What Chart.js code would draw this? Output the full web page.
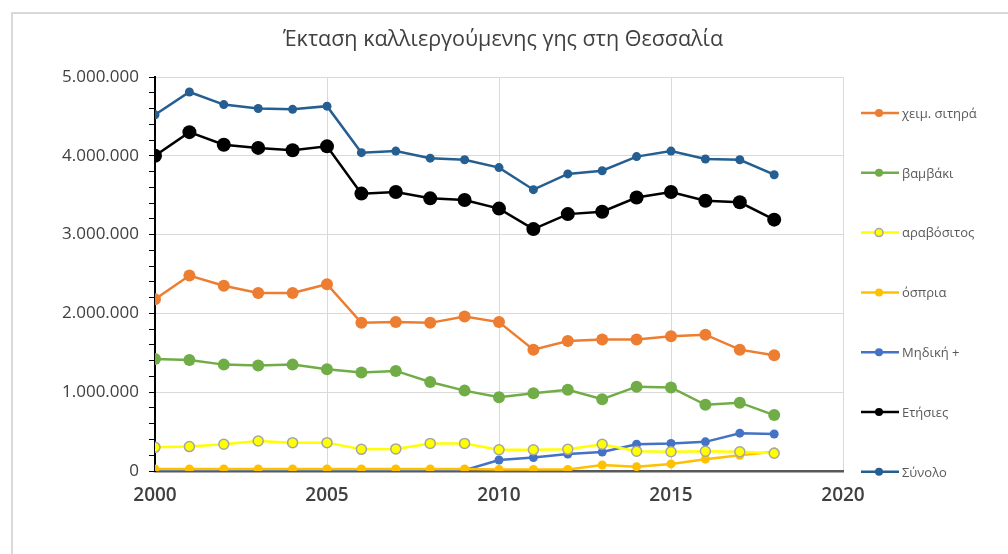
<!DOCTYPE html>
<html>
<head>
<meta charset="utf-8">
<script src="https://cdn.jsdelivr.net/npm/chart.js@4.4.1/dist/chart.umd.min.js"></script>
<style>
  html, body { margin: 0; padding: 0; background: #fff; }
  #wrap { width: 1008px; height: 554px; position: relative; }
</style>
</head>
<body>
<div id="wrap"><canvas id="chart" width="1008" height="554"></canvas></div>
<script>
    const chartTitle = "Έκταση καλλιεργούμενης γης στη Θεσσαλία";
    const years = [2000, 2001, 2002, 2003, 2004, 2005, 2006, 2007, 2008, 2009,
                   2010, 2011, 2012, 2013, 2014, 2015, 2016, 2017, 2018];

    const seriesNames = ["χειμ. σιτηρά", "βαμβάκι", "αραβόσιτος", "όσπρια", "Μηδική +", "Ετήσιες", "Σύνολο"];

    const wheat = [2180000, 2480000, 2350000, 2260000, 2260000, 2370000, 1880000, 1890000, 1880000, 1960000,
                   1890000, 1540000, 1650000, 1670000, 1670000, 1710000, 1730000, 1540000, 1470000];
    const cotton = [1420000, 1410000, 1350000, 1340000, 1350000, 1290000, 1250000, 1270000, 1130000, 1020000,
                    935000, 986000, 1030000, 910000, 1070000, 1060000, 840000, 867000, 710000];
    const maize = [300000, 310000, 340000, 380000, 360000, 360000, 275000, 280000, 350000, 350000,
                   270000, 270000, 275000, 340000, 250000, 245000, 250000, 245000, 225000];
    const pulses = [25000, 25000, 25000, 25000, 25000, 25000, 25000, 25000, 25000, 25000,
                    20000, 20000, 20000, 76000, 55000, 90000, 150000, 200000, 245000];
    const alfalfa = [5000, 5000, 5000, 5000, 5000, 5000, 5000, 5000, 5000, 10000,
                     140000, 170000, 215000, 240000, 340000, 350000, 370000, 480000, 470000];
    const annual = [4000000, 4300000, 4140000, 4100000, 4070000, 4120000, 3520000, 3540000, 3460000, 3440000,
                    3330000, 3070000, 3260000, 3290000, 3470000, 3540000, 3430000, 3410000, 3190000];
    const total = [4520000, 4810000, 4650000, 4600000, 4590000, 4630000, 4040000, 4060000, 3970000, 3950000,
                   3850000, 3570000, 3770000, 3810000, 3990000, 4060000, 3960000, 3950000, 3760000];

    const yTickLabels = [0, 1000000, 2000000, 3000000, 4000000, 5000000];
    const xTickLabels = [2000, 2005, 2010, 2015, 2020];

    function fmtGreek(v) {
        return String(Math.round(v)).replace(/\B(?=(\d{3})+(?!\d))/g, '.');
    }

    function toPoints(arr) {
        return years.map((yr, i) => ({ x: yr, y: arr[i] }));
    }

    function makeSet(label, arr, color, radius, border, borderW) {
        return {
            label: label,
            data: toPoints(arr),
            borderColor: color,
            backgroundColor: color,
            borderWidth: 2.5,
            tension: 0,
            pointRadius: radius,
            pointHoverRadius: radius,
            pointBackgroundColor: color,
            pointBorderColor: border || color,
            pointBorderWidth: borderW || 0
        };
    }

    const datasets = [
        makeSet(seriesNames[0], wheat, '#ED7D31', 6),
        makeSet(seriesNames[1], cotton, '#70AD47', 6),
        makeSet(seriesNames[2], maize, '#FFFF00', 5, '#A5A5A5', 1.5),
        makeSet(seriesNames[3], pulses, '#FFC000', 4.5),
        makeSet(seriesNames[4], alfalfa, '#4472C4', 4.5),
        makeSet(seriesNames[5], annual, '#000000', 7),
        makeSet(seriesNames[6], total, '#255E91', 4.5)
    ];

    // frame, title and legend drawn by hand
    const decorPlugin = {
        id: 'decor',
        beforeDraw(chart) {
            const c = chart.ctx;
            c.save();
            c.strokeStyle = '#d9d9d9';
            c.lineWidth = 2;
            c.beginPath();
            c.moveTo(12, chart.height);
            c.lineTo(12, 13);
            c.lineTo(chart.width, 13);
            c.stroke();
            c.restore();
        },
        afterDraw(chart) {
            const c = chart.ctx;
            c.save();
            c.fillStyle = '#404040';
            c.font = '21.5px "Open Sans", sans-serif';
            c.textAlign = 'center';
            c.textBaseline = 'middle';
            c.fillText(chartTitle, 503, 40);

            c.font = '13px "Open Sans", sans-serif';
            c.textAlign = 'left';
            chart.data.datasets.forEach((ds, i) => {
                const y = 113 + i * 59.8;
                c.strokeStyle = ds.borderColor;
                c.lineWidth = 2.5;
                c.beginPath();
                c.moveTo(861, y);
                c.lineTo(899, y);
                c.stroke();
                c.beginPath();
                c.arc(879, y, 4, 0, Math.PI * 2);
                c.fillStyle = ds.pointBackgroundColor;
                c.fill();
                if (ds.pointBorderWidth) {
                    c.lineWidth = 1.5;
                    c.strokeStyle = ds.pointBorderColor;
                    c.stroke();
                }
                c.fillStyle = '#595959';
                c.fillText(ds.label, 902, y + 1);
            });
            c.restore();
        }
    };

    new Chart(document.getElementById('chart').getContext('2d'), {
        type: 'line',
        data: { datasets: datasets },
        options: {
            responsive: false,
            animation: false,
            events: [],
            layout: { padding: { left: 11, right: 165, top: 77, bottom: 0 } },
            plugins: {
                legend: { display: false },
                title: { display: false },
                tooltip: { enabled: false }
            },
            scales: {
                x: {
                    type: 'linear',
                    min: xTickLabels[0],
                    max: xTickLabels[xTickLabels.length - 1],
                    afterBuildTicks: (s) => { s.ticks = xTickLabels.map(v => ({ value: v })); },
                    afterFit: (s) => { s.height = 83; },
                    grid: { color: '#d9d9d9', lineWidth: 1, drawTicks: false },
                    border: { color: '#595959', width: 2.5 },
                    ticks: {
                        padding: 13,
                        color: '#404040',
                        font: { family: '"Open Sans", sans-serif', size: 19, weight: '600' },
                        callback: (v) => String(v)
                    }
                },
                y: {
                    min: yTickLabels[0],
                    max: yTickLabels[yTickLabels.length - 1],
                    afterBuildTicks: (s) => {
                        const t = [];
                        for (let v = yTickLabels[0]; v <= yTickLabels[yTickLabels.length - 1]; v += 200000) t.push({ value: v });
                        s.ticks = t;
                    },
                    afterFit: (s) => { s.width = 144; },
                    grid: {
                        color: (ctx) => yTickLabels.includes(ctx.tick.value) ? '#d9d9d9' : 'rgba(0,0,0,0)',
                        tickColor: '#000',
                        tickLength: 6,
                        lineWidth: 1
                    },
                    border: { color: '#000', width: 2 },
                    ticks: {
                        autoSkip: false,
                        padding: 10,
                        color: '#404040',
                        font: { family: '"Open Sans", sans-serif', size: 17 },
                        callback: (v) => yTickLabels.includes(v) ? fmtGreek(v) : ''
                    }
                }
            }
        },
        plugins: [decorPlugin]
    });
</script>
</body>
</html>
